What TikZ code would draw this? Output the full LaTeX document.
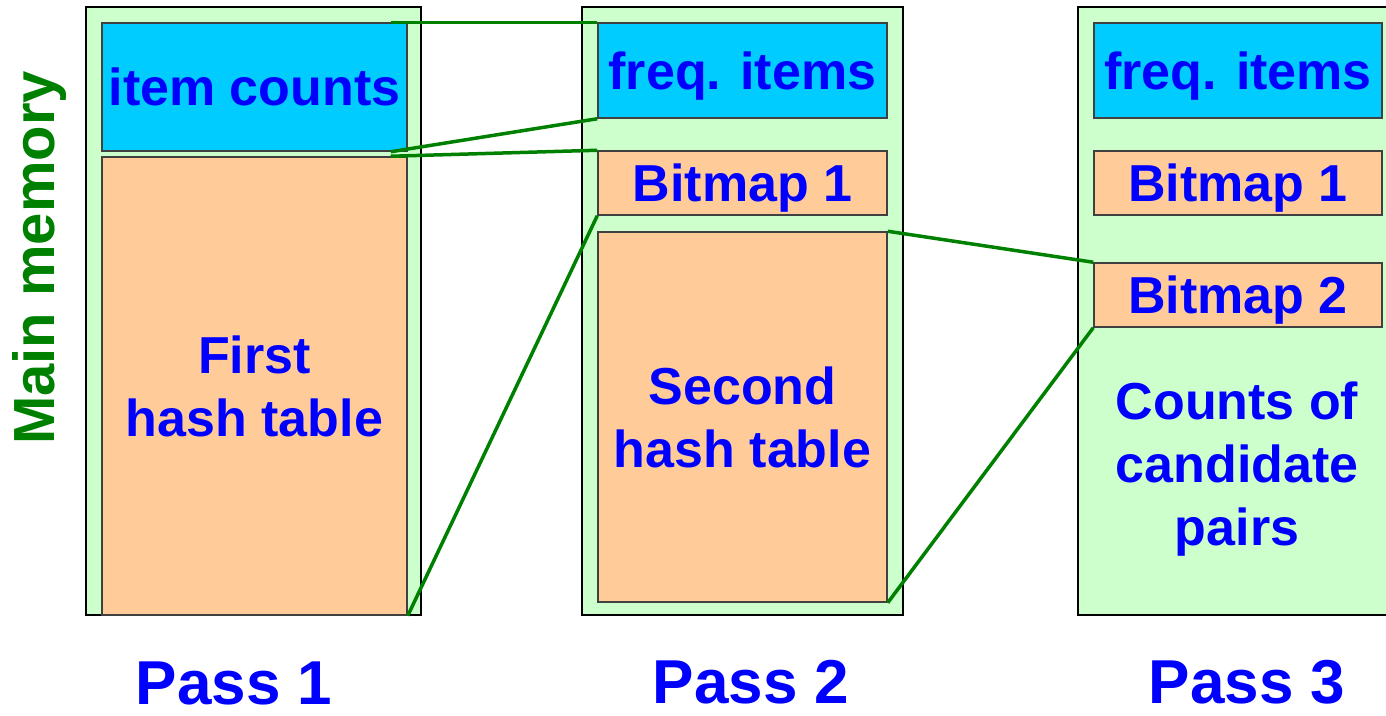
\documentclass[tikz,border=0pt]{standalone}
\usepackage{fontspec}
\setmainfont{Liberation Sans}
\definecolor{memgreen}{HTML}{CCFFCC}
\definecolor{cyanfill}{HTML}{00CCFF}
\definecolor{orangefill}{HTML}{FFCC99}
\definecolor{textblue}{HTML}{0000FF}
\definecolor{linkgreen}{HTML}{008000}
\begin{document}
\begin{tikzpicture}[x=1pt,y=-1pt,
  memcol/.style={draw=black, line width=2pt, fill=memgreen, inner sep=0pt,
    minimum width=#1, minimum height=608pt},
  blk/.style={draw=black!75, line width=1.5pt, inner sep=0pt, align=center,
    text=textblue, font=\bfseries\fontsize{52}{63}\selectfont},
  oneline/.style={text depth=0pt},
  cyanblk/.style={blk, fill=cyanfill},
  orangeblk/.style={blk, fill=orangefill},
  label/.style={text=textblue, align=center, inner sep=0pt,
    font=\bfseries\fontsize{52}{63}\selectfont},
  passlabel/.style={text=textblue, inner sep=0pt,
    font=\bfseries\fontsize{62}{70}\selectfont},
  link/.style={draw=linkgreen, line width=3.5pt}]
\useasboundingbox (0,0) rectangle (1386,715);
\clip (0,0) rectangle (1386,715);

% memory columns
\node[memcol=335pt] (col1) at (253.5,311) {};
\node[memcol=321pt] (col2) at (742.5,311) {};
\node[memcol=322pt] (col3) at (1239,311) {};

% pass 1
\node[cyanblk, oneline, minimum width=305pt, minimum height=128pt] (ic) at (254.5,87) {item counts};
\node[orangeblk, minimum width=305pt, minimum height=458pt] (fh) at (254.5,386) {First\\hash table};

% pass 2
\node[cyanblk, oneline, minimum width=289pt, minimum height=95pt] (fi2) at (742.5,70.5) {freq. items};
\node[orangeblk, oneline, minimum width=289pt, minimum height=64pt] (bm2) at (742.5,183) {Bitmap 1};
\node[orangeblk, minimum width=289pt, minimum height=370pt] (sh) at (742.5,417) {Second\\hash table};

% pass 3
\node[cyanblk, oneline, minimum width=288pt, minimum height=95pt] (fi3) at (1238,70.5) {freq. items};
\node[orangeblk, oneline, minimum width=288pt, minimum height=64pt] (bm13) at (1238,183) {Bitmap 1};
\node[orangeblk, oneline, minimum width=288pt, minimum height=64pt] (bm23) at (1238,295) {Bitmap 2};
\node[label] (cand) at (1237,469) {Counts of\\candidate\\pairs};

% connectors between passes
\draw[link] ([xshift=-17pt]ic.north east) -- (fi2.north west);
\draw[link] ([xshift=-17pt]ic.south east) -- (fi2.south west);
\draw[link] ([xshift=-17pt]fh.north east) -- (bm2.north west);
\draw[link] (fh.south east) -- (bm2.south west);
\draw[link] (sh.north east) -- (bm23.north west);
\draw[link] (sh.south east) -- (bm23.south west);

% labels
\node[passlabel] (p1) at (234,683) {Pass 1};
\node[passlabel] (p2) at (751,682) {Pass 2};
\node[passlabel] (p3) at (1247,682) {Pass 3};
\node[rotate=90, text=linkgreen, inner sep=0pt,
  font=\bfseries\fontsize{58}{66}\selectfont] (mm) at (40,258) {Main memory};
\end{tikzpicture}
\end{document}
